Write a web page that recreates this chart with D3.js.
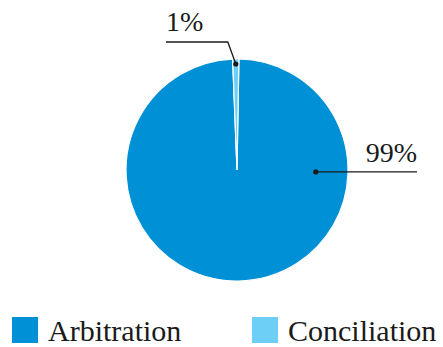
<!DOCTYPE html>
<html>
<head>
<meta charset="utf-8">
<script src="https://cdn.jsdelivr.net/npm/d3@7"></script>
<style>
  body { margin: 0; background: #fff; }
</style>
</head>
<body>
<div id="chart"></div>
<script>
// data
var categories = ["Arbitration", "Conciliation"];
var values = [99.1, 0.9];
var labels = ["99%", "1%"];
var colors = ["#0090d6", "#6dcff6"];

var width = 443, height = 347;
var cx = 237, cy = 170, radius = 111;
var serif = "'Liberation Serif'";

var svg = d3.select("#chart").append("svg")
    .attr("width", width)
    .attr("height", height);

var g = svg.append("g")
    .attr("transform", "translate(" + cx + "," + cy + ")");

var pie = d3.pie()
    .sort(null)
    .startAngle(0.017)
    .endAngle(0.017 + 2 * Math.PI)
    .value(function(d) { return d; });

var arcs = pie(values);

var arc = d3.arc().innerRadius(0).outerRadius(radius);

g.selectAll("path.slice")
  .data(arcs)
  .enter()
  .append("path")
    .attr("class", "slice")
    .attr("d", arc)
    .attr("fill", function(d, i) { return colors[i]; })
    .attr("stroke", "#fff")
    .attr("stroke-width", 1.2);

// point on circle for a given angle (0 = 12 o'clock, clockwise)
function pt(a, r) { return [Math.sin(a) * r, -Math.cos(a) * r]; }

// label for Arbitration (99%) - anchor on right side
var a0 = Math.PI / 2 + 0.025;
var p0 = pt(a0, radius * 0.71);
g.append("polyline")
    .attr("points", [p0, [180, p0[1]]].map(function(p) { return p.join(","); }).join(" "))
    .attr("fill", "none").attr("stroke", "#1a1a1a").attr("stroke-width", 1.3);
g.append("circle").attr("cx", p0[0]).attr("cy", p0[1]).attr("r", 2.6).attr("fill", "#1a1a1a");
g.append("text")
    .attr("x", 180).attr("y", p0[1] - 10)
    .attr("text-anchor", "end")
    .style("font-family", serif)
    .style("font-size", "28px")
    .attr("fill", "#1a1a1a")
    .text(labels[0]);

// label for Conciliation (1%) - anchor at slice middle near edge
var a1 = (arcs[1].startAngle + arcs[1].endAngle) / 2;
var p1 = pt(a1, radius * 0.955);
var elbow = [p1[0] - 8, -128];
g.append("polyline")
    .attr("points", [p1, elbow, [-71, -128]].map(function(p) { return p.join(","); }).join(" "))
    .attr("fill", "none").attr("stroke", "#1a1a1a").attr("stroke-width", 1.3);
g.append("circle").attr("cx", p1[0]).attr("cy", p1[1]).attr("r", 2.6).attr("fill", "#1a1a1a");
g.append("text")
    .attr("x", -71).attr("y", -139)
    .style("font-family", serif)
    .style("font-size", "28px")
    .attr("fill", "#1a1a1a")
    .text(labels[1]);

// legend
var legendX = [12, 252];
var legend = svg.selectAll("g.legend")
  .data(categories)
  .enter()
  .append("g")
    .attr("class", "legend")
    .attr("transform", function(d, i) { return "translate(" + legendX[i] + ",317)"; });

legend.append("rect")
    .attr("width", 26).attr("height", 26)
    .attr("fill", function(d, i) { return colors[i]; });

legend.append("text")
    .attr("x", 36).attr("y", 24)
    .style("font-family", serif)
    .style("font-size", "30px")
    .attr("fill", "#1a1a1a")
    .text(function(d) { return d; });
</script>
</body>
</html>
